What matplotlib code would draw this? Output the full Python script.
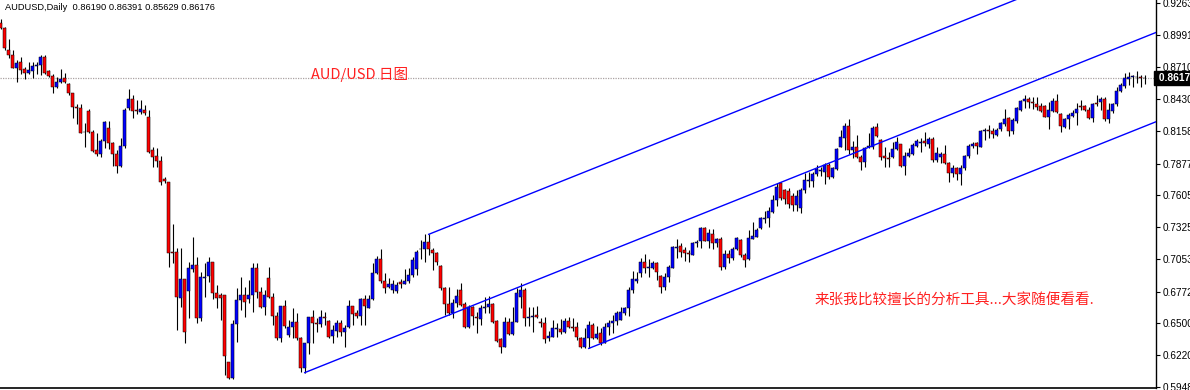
import matplotlib
matplotlib.use("Agg")
import matplotlib.pyplot as plt
import matplotlib.transforms as mtransforms
import numpy as np

# ---------------- data (AUDUSD daily candles) ----------------
opens = [
0.9088,0.9044,0.8857,0.8814,0.8705,0.8754,0.8694,0.8662,0.8679,0.8719,
0.8725,0.8794,0.8676,0.8633,0.8535,0.8581,0.8613,0.8561,0.8483,0.8362,
0.8354,0.8152,0.8331,0.8147,0.7994,0.7957,0.8069,0.8184,0.8052,0.7957,
0.7859,0.8031,0.8359,0.8434,0.8339,0.8325,0.8339,0.8282,0.7994,0.7942,
0.7896,0.7741,0.7715,0.7110,0.7110,0.6719,0.6877,0.6780,0.6969,0.6998,
0.6541,0.6886,0.6906,0.7030,0.6757,0.6742,0.6742,0.6161,0.6028,0.6492,
0.6699,0.6742,0.6705,0.6742,0.6972,0.6771,0.6641,0.6886,0.6722,0.6561,
0.6368,0.6647,0.6397,0.6463,0.6506,0.6368,0.6109,0.6325,0.6549,0.6503,
0.6492,0.6555,0.6518,0.6388,0.6431,0.6498,0.6425,0.6469,0.6647,0.6584,
0.6561,0.6705,0.6627,0.6705,0.6929,0.7050,0.6866,0.6808,0.6785,0.6780,
0.6851,0.6837,0.6863,0.6912,0.6964,0.7136,0.7136,0.7197,0.7131,0.7102,
0.6993,0.6800,0.6664,0.6590,0.6676,0.6785,0.6664,0.6463,0.6641,0.6549,
0.6532,0.6627,0.6636,0.6664,0.6518,0.6359,0.6296,0.6506,0.6403,0.6512,
0.6722,0.6785,0.6546,0.6549,0.6570,0.6512,0.6498,0.6368,0.6382,0.6446,
0.6449,0.6420,0.6521,0.6469,0.6469,0.6368,0.6290,0.6368,0.6483,0.6368,
0.6411,0.6325,0.6469,0.6498,0.6518,0.6526,0.6590,0.6627,0.6785,0.6866,
0.6929,0.7027,0.6978,0.6972,0.7016,0.6906,0.6808,0.6900,0.6972,0.7145,
0.7165,0.7131,0.7102,0.7087,0.7188,0.7211,0.7321,0.7211,0.7266,0.7194,
0.7226,0.6987,0.7093,0.7059,0.7136,0.7217,0.7087,0.7050,0.7229,0.7246,
0.7318,0.7401,0.7404,0.7461,0.7562,0.7706,0.7649,0.7643,0.7597,0.7519,
0.7496,0.7649,0.7727,0.7729,0.7787,0.7810,0.7807,0.7864,0.7758,0.7830,
0.8023,0.8095,0.8201,0.7994,0.8023,0.7936,0.7887,0.8017,0.8017,0.8195,
0.8080,0.7942,0.7922,0.7931,0.8000,0.8043,0.7859,0.7945,0.7957,0.8031,
0.8057,0.8072,0.8046,0.8086,0.7908,0.7936,0.7957,0.7885,0.7793,0.7836,
0.7787,0.7836,0.7945,0.8029,0.8057,0.8023,0.8158,0.8167,0.8158,0.8124,
0.8175,0.8218,0.8267,0.8161,0.8247,0.8339,0.8417,0.8434,0.8405,0.8388,
0.8374,0.8374,0.8282,0.8331,0.8417,0.8302,0.8195,0.8259,0.8290,0.8311,
0.8374,0.8374,0.8339,0.8267,0.8397,0.8411,0.8434,0.8259,0.8328,0.8388,
0.8506,0.8550,0.8607,0.8621,0.8627,0.8627,0.86190]

highs = [
0.9122,0.9059,0.8949,0.8857,0.8771,0.8794,0.8713,0.8754,0.8751,0.8757,
0.8814,0.8814,0.8685,0.8650,0.8627,0.8690,0.8662,0.8570,0.8489,0.8391,
0.8391,0.8230,0.8348,0.8167,0.8138,0.8086,0.8247,0.8247,0.8066,0.7994,
0.8095,0.8359,0.8521,0.8466,0.8426,0.8426,0.8382,0.8339,0.8023,0.8014,
0.7942,0.7764,0.7715,0.7355,0.7145,0.7145,0.6877,0.7030,0.7246,0.7073,
0.6943,0.7016,0.7073,0.7030,0.6828,0.6757,0.6742,0.6161,0.6526,0.6800,
0.6900,0.6814,0.6872,0.7016,0.7016,0.6814,0.6785,0.6987,0.6757,0.6598,
0.6647,0.6699,0.6526,0.6627,0.6590,0.6382,0.6331,0.6555,0.6613,0.6541,
0.6613,0.6598,0.6526,0.6483,0.6526,0.6526,0.6483,0.6699,0.6647,0.6613,
0.6713,0.6742,0.6742,0.7016,0.7079,0.7136,0.6935,0.6886,0.6872,0.6857,
0.6877,0.6964,0.6972,0.7073,0.7131,0.7217,0.7266,0.7266,0.7145,0.7116,
0.7001,0.6814,0.6814,0.6705,0.6791,0.6843,0.6684,0.6656,0.6647,0.6598,
0.6656,0.6728,0.6734,0.6676,0.6526,0.6368,0.6555,0.6541,0.6641,0.6800,
0.6849,0.6800,0.6641,0.6641,0.6647,0.6541,0.6555,0.6431,0.6526,0.6498,
0.6532,0.6541,0.6555,0.6541,0.6512,0.6382,0.6454,0.6521,0.6498,0.6475,
0.6454,0.6498,0.6526,0.6570,0.6607,0.6636,0.6636,0.6814,0.6952,0.6943,
0.7064,0.7096,0.7050,0.7036,0.7030,0.6915,0.6929,0.7001,0.7165,0.7223,
0.7194,0.7159,0.7131,0.7203,0.7217,0.7332,0.7332,0.7309,0.7309,0.7231,
0.7240,0.7131,0.7131,0.7159,0.7243,0.7223,0.7107,0.7303,0.7375,0.7318,
0.7418,0.7470,0.7505,0.7605,0.7706,0.7720,0.7654,0.7663,0.7620,0.7649,
0.7663,0.7793,0.7807,0.7807,0.7864,0.7850,0.7879,0.7885,0.7850,0.8008,
0.8167,0.8230,0.8259,0.8075,0.8124,0.7951,0.8023,0.8138,0.8201,0.8230,
0.8086,0.8023,0.7980,0.8066,0.8109,0.8046,0.7980,0.8008,0.8052,0.8086,
0.8101,0.8152,0.8109,0.8103,0.8023,0.7980,0.8037,0.7893,0.7864,0.7850,
0.7864,0.7951,0.8046,0.8066,0.8066,0.8167,0.8181,0.8210,0.8181,0.8181,
0.8239,0.8345,0.8282,0.8267,0.8368,0.8426,0.8469,0.8454,0.8454,0.8449,
0.8397,0.8382,0.8411,0.8440,0.8475,0.8316,0.8267,0.8311,0.8339,0.8397,
0.8426,0.8382,0.8368,0.8397,0.8469,0.8454,0.8454,0.8397,0.8403,0.8535,
0.8570,0.8662,0.8670,0.8641,0.8679,0.8641,0.86391]

lows = [
0.9036,0.8857,0.8785,0.8699,0.8584,0.8650,0.8604,0.8650,0.8618,0.8650,
0.8641,0.8650,0.8621,0.8489,0.8526,0.8570,0.8570,0.8472,0.8267,0.8218,
0.8138,0.8023,0.8138,0.7977,0.7942,0.7936,0.8008,0.8003,0.7856,0.7798,
0.7850,0.8008,0.8339,0.8270,0.8302,0.8302,0.8296,0.7965,0.7850,0.7850,
0.7692,0.7706,0.6987,0.7016,0.6440,0.6641,0.6331,0.6541,0.6943,0.6498,
0.6521,0.6728,0.6857,0.6707,0.6627,0.6526,0.6051,0.6017,0.6017,0.6339,
0.6613,0.6555,0.6670,0.6598,0.6713,0.6627,0.6569,0.6713,0.6483,0.6354,
0.6339,0.6454,0.6377,0.6368,0.6354,0.6080,0.6072,0.6233,0.6331,0.6425,
0.6469,0.6483,0.6368,0.6325,0.6382,0.6388,0.6296,0.6454,0.6483,0.6541,
0.6483,0.6483,0.6627,0.6699,0.6923,0.6843,0.6757,0.6800,0.6762,0.6757,
0.6800,0.6834,0.6849,0.6900,0.6915,0.7050,0.7030,0.7087,0.6958,0.7001,
0.6785,0.6569,0.6569,0.6541,0.6641,0.6647,0.6454,0.6454,0.6483,0.6417,
0.6483,0.6584,0.6584,0.6503,0.6339,0.6244,0.6290,0.6397,0.6397,0.6506,
0.6627,0.6474,0.6474,0.6425,0.6541,0.6469,0.6331,0.6348,0.6377,0.6377,
0.6403,0.6417,0.6454,0.6431,0.6354,0.6281,0.6281,0.6281,0.6359,0.6359,
0.6310,0.6325,0.6397,0.6411,0.6483,0.6526,0.6569,0.6561,0.6757,0.6849,
0.6900,0.6935,0.6900,0.6964,0.6872,0.6762,0.6785,0.6857,0.6972,0.7059,
0.7073,0.7039,0.7030,0.7087,0.7159,0.7145,0.7205,0.7145,0.7136,0.7159,
0.6958,0.6964,0.7021,0.7044,0.7131,0.7073,0.6987,0.7044,0.7223,0.7240,
0.7309,0.7367,0.7332,0.7453,0.7511,0.7562,0.7528,0.7490,0.7470,0.7470,
0.7447,0.7626,0.7677,0.7672,0.7772,0.7770,0.7700,0.7741,0.7749,0.7821,
0.8017,0.7994,0.7959,0.7922,0.7922,0.7821,0.7850,0.8008,0.7999,0.8109,
0.7908,0.7850,0.7850,0.7922,0.7994,0.7850,0.7778,0.7936,0.7951,0.8023,
0.7980,0.8028,0.8008,0.7893,0.7893,0.7879,0.7873,0.7720,0.7764,0.7735,
0.7692,0.7821,0.7922,0.8008,0.7959,0.8017,0.8080,0.8095,0.8095,0.8115,
0.8161,0.8201,0.8115,0.8132,0.8230,0.8334,0.8354,0.8354,0.8345,0.8339,
0.8325,0.8276,0.8172,0.8319,0.8311,0.8147,0.8187,0.8172,0.8276,0.8213,
0.8339,0.8334,0.8259,0.8233,0.8374,0.8339,0.8247,0.8230,0.8311,0.8374,
0.8498,0.8526,0.8555,0.8541,0.8570,0.8541,0.85629]

closes = [
0.9044,0.8872,0.8814,0.8705,0.8748,0.8685,0.8656,0.8685,0.8719,0.8728,
0.8794,0.8662,0.8633,0.8535,0.8584,0.8610,0.8578,0.8483,0.8362,0.8354,
0.8144,0.8147,0.8147,0.7988,0.7957,0.8069,0.8236,0.8052,0.7957,0.7859,
0.8031,0.8339,0.8434,0.8334,0.8328,0.8348,0.8311,0.7980,0.7936,0.7896,
0.7720,0.7729,0.7102,0.7102,0.6722,0.6877,0.6425,0.6978,0.6998,0.6541,
0.6900,0.6900,0.7027,0.6757,0.6713,0.6713,0.6218,0.6028,0.6492,0.6699,
0.6742,0.6684,0.6742,0.6972,0.6771,0.6641,0.6742,0.6728,0.6561,0.6368,
0.6647,0.6477,0.6463,0.6506,0.6368,0.6109,0.6325,0.6549,0.6498,0.6492,
0.6549,0.6546,0.6382,0.6440,0.6498,0.6425,0.6454,0.6647,0.6578,0.6561,
0.6705,0.6647,0.6705,0.6929,0.7050,0.6866,0.6800,0.6834,0.6834,0.6828,
0.6834,0.6863,0.6915,0.7044,0.7110,0.7142,0.7197,0.7136,0.7102,0.7030,
0.6800,0.6664,0.6590,0.6676,0.6734,0.6659,0.6463,0.6641,0.6561,0.6541,
0.6627,0.6641,0.6664,0.6512,0.6348,0.6296,0.6506,0.6403,0.6512,0.6757,
0.6785,0.6546,0.6555,0.6561,0.6555,0.6498,0.6359,0.6388,0.6454,0.6454,
0.6420,0.6521,0.6469,0.6460,0.6382,0.6290,0.6368,0.6483,0.6368,0.6403,
0.6325,0.6469,0.6503,0.6518,0.6584,0.6593,0.6627,0.6785,0.6880,0.6877,
0.7027,0.6978,0.6987,0.7016,0.6941,0.6808,0.6900,0.6987,0.7159,0.7159,
0.7116,0.7102,0.7093,0.7188,0.7197,0.7321,0.7211,0.7280,0.7194,0.7226,
0.6987,0.7096,0.7059,0.7142,0.7237,0.7087,0.7044,0.7231,0.7252,0.7303,
0.7404,0.7410,0.7467,0.7562,0.7677,0.7577,0.7571,0.7528,0.7519,0.7600,
0.7649,0.7735,0.7735,0.7787,0.7827,0.7821,0.7864,0.7758,0.7836,0.8003,
0.8109,0.8201,0.7994,0.8023,0.7931,0.7887,0.8008,0.8029,0.8187,0.8115,
0.7936,0.7928,0.7914,0.8000,0.8066,0.7856,0.7945,0.7965,0.8037,0.8075,
0.8066,0.8052,0.8086,0.7908,0.7965,0.7959,0.7885,0.7793,0.7836,0.7784,
0.7836,0.7945,0.8031,0.8046,0.8029,0.8158,0.8167,0.8158,0.8132,0.8167,
0.8224,0.8262,0.8161,0.8253,0.8354,0.8420,0.8434,0.8405,0.8397,0.8368,
0.8334,0.8282,0.8339,0.8417,0.8319,0.8204,0.8259,0.8296,0.8311,0.8348,
0.8362,0.8339,0.8267,0.8388,0.8388,0.8434,0.8259,0.8339,0.8388,0.8506,
0.8555,0.8613,0.8627,0.8633,0.8621,0.8618,0.86176]

tick_values = [0.9263, 0.8991, 0.8710, 0.8430, 0.8158, 0.7877, 0.7605,
               0.7325, 0.7053, 0.6772, 0.6500, 0.6220, 0.5948]
tick_labels = ["0.9263", "0.8991", "0.8710", "0.8430", "0.8158", "0.7877", "0.7605",
               "0.7325", "0.7053", "0.6772", "0.6500", "0.6220", "0.5948"]

# equidistant channel: start bar index, start price, slope per bar
channel_start_bars = [76, 107, 147]
channel_start_prices = [0.6072, 0.7266, 0.6281]
channel_slope_per_bar = 0.00138

last_price = 0.8617
header = "AUDUSD,Daily  0.86190 0.86391 0.85629 0.86176"
title_note = "AUD/USD 日图"
comment_note = "来张我比较擅长的分析工具...大家随便看看."

# ---------------- figure ----------------
W, H = 1190, 390
fig = plt.figure(figsize=(W / 100, H / 100), dpi=100)
fig.patch.set_facecolor("white")
ax = fig.add_axes([0, 1.7 / H, 1156 / W, 388.3 / H])

o = np.array(opens); h = np.array(highs); l = np.array(lows); c = np.array(closes)
x = np.arange(len(o))
up = c >= o
body_colors = np.where(up, "#0000ff", "#ff0000")

ax.vlines(x, l, h, color="black", linewidth=0.8, zorder=2)
ax.bar(x, np.abs(c - o), bottom=np.minimum(o, c), width=0.72,
       color=body_colors, edgecolor="black", linewidth=0.35, zorder=3)

# channel lines (rays to the right)
for sb, sp in zip(channel_start_bars, channel_start_prices):
    xs = np.array([sb, sb + 400])
    ys = sp + channel_slope_per_bar * (xs - sb)
    ax.plot(xs, ys, color="#0000ff", linewidth=1.0, zorder=4)

# bid line
ax.axhline(last_price, color="#aaa2a2", linestyle=(0, (1, 1)), linewidth=0.9, zorder=1)

ax.set_xlim(-0.17, 288.8)
ax.set_ylim(0.59368, 0.92889)

for s in ["left", "top"]:
    ax.spines[s].set_visible(False)
ax.spines["right"].set_color("black")
ax.spines["bottom"].set_color("black")
ax.spines["right"].set_linewidth(1.0)
ax.spines["bottom"].set_linewidth(1.2)
ax.set_xticks([])
ax.yaxis.tick_right()
ax.set_yticks(tick_values)
ax.set_yticklabels(tick_labels)
ax.tick_params(axis="y", direction="out", length=3, width=0.8, pad=2,
               labelsize=7.2, colors="black")
for lab in ax.get_yticklabels():
    lab.set_fontfamily("Liberation Sans")

# current price box
trans = mtransforms.blended_transform_factory(ax.transAxes, ax.transData)
ax.text(1.0, last_price, " 0.8617 ", transform=trans, ha="left", va="center",
        fontsize=7.4, color="white", fontfamily="Liberation Sans", fontweight="bold",
        bbox=dict(boxstyle="square,pad=0.18", fc="black", ec="black"),
        clip_on=False, zorder=10)

# header
fig.text(5 / W, 1 - 7.5 / H, header, fontsize=6.7, fontfamily="Liberation Sans",
         ha="left", va="center", color="black")

cjk = ["Noto Sans CJK SC", "DejaVu Sans"]
ax.text(310.7 / 1156, 1 - 74.5 / 388.3, title_note, transform=ax.transAxes,
        fontsize=10.5, color="#ff2020", fontfamily=cjk, ha="left", va="center")
ax.text(815 / 1156, 1 - 300 / 388.3, comment_note, transform=ax.transAxes,
        fontsize=10.5, color="#ff2020", fontfamily=cjk, ha="left", va="center")

fig.savefig("out.png", dpi=100, facecolor="white")
